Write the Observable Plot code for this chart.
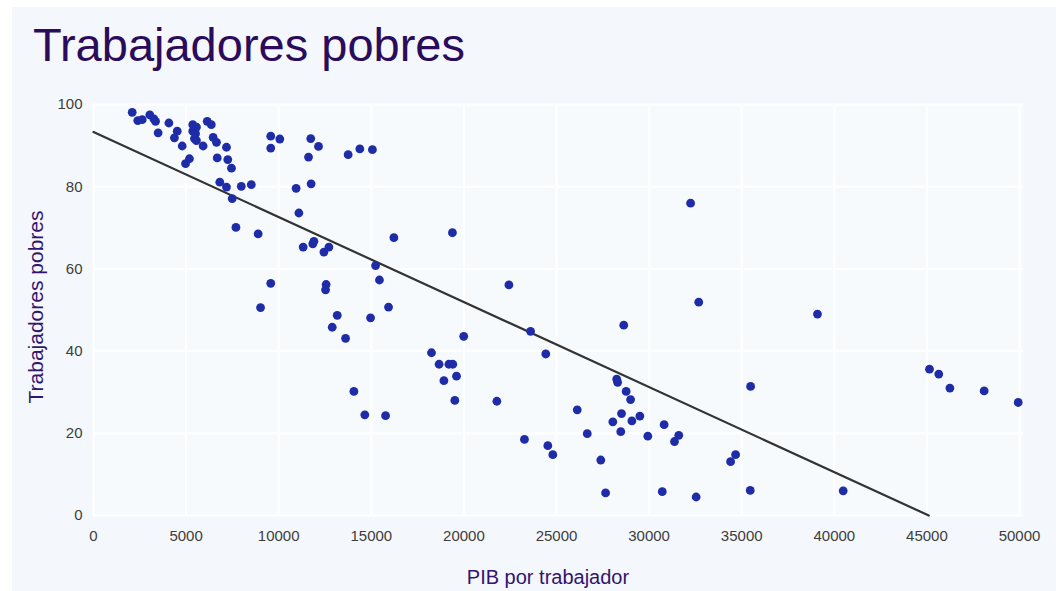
<!DOCTYPE html>
<html>
<head>
<meta charset="utf-8">
<script src="https://cdn.jsdelivr.net/npm/d3@7"></script>
<script src="https://cdn.jsdelivr.net/npm/@observablehq/plot@0.6"></script>
<style>
  html, body { margin: 0; padding: 0; background: #ffffff; }
  #page { position: relative; width: 1056px; height: 591px; overflow: hidden; }
  #panel { position: absolute; left: 12px; top: 7px; width: 1044px; height: 584px; background: #f4f7fb; }
  #title { position: absolute; left: 33px; top: 21px; font-family: "Liberation Sans", Arial, sans-serif; font-size: 47px; color: #2a0b5c; white-space: nowrap; line-height: 1; }
  #xlabel { position: absolute; left: 0; width: 1096px; text-align: center; top: 567px; font-family: "Liberation Sans", Arial, sans-serif; font-size: 20px; color: #33146e; line-height: 1; }
  #ylabel { position: absolute; left: 35px; top: 307px; transform: translate(-50%, -50%) rotate(-90deg); font-family: "Liberation Sans", Arial, sans-serif; font-size: 21px; color: #33146e; white-space: nowrap; line-height: 1; }
  #chart { position: absolute; left: 0; top: 80px; }
</style>
</head>
<body>
<div id="page">
  <div id="panel"></div>
  <div id="title">Trabajadores pobres</div>
  <div id="chart"></div>
  <div id="xlabel">PIB por trabajador</div>
  <div id="ylabel">Trabajadores pobres</div>
</div>
<script>
// PIB por trabajador (x) and Trabajadores pobres (y)
const pib = [
  2090, 2390, 2630, 3040, 3260, 3350, 4070, 3490, 4520, 4370, 4790, 5180, 4970,
  5360, 5560, 5360, 5510, 5450, 5560, 5920, 6140, 6360, 6460, 6640, 7180, 6680,
  7250, 7450, 6820, 7180, 7490, 7980, 8520, 7690, 8890, 9570, 10060, 9570, 10940,
  11750, 11730, 12150, 11610, 13750, 14380, 15060, 11090, 11320, 11840, 11900,
  12710, 12440, 15230, 15440, 16220, 9570, 12560, 12530, 9020, 15930, 13160,
  14960, 12890, 13610, 14060, 14650, 15770, 19380, 32240, 22430, 23600, 19990,
  18250, 24420, 28630, 32680, 18660, 19190, 19400, 19600, 18920, 19510, 21780,
  23270, 24530, 24800, 26120, 26660, 27390, 27650, 28250, 28300, 28760, 29000,
  28510, 28040, 29070, 29500, 28470, 29930, 30810, 31600, 31370, 30710, 32540,
  39090, 45140, 45640, 46240, 48090, 49930, 35480, 34670, 34400, 35460, 40480
];
const pobres = [
  98.1, 96.1, 96.3, 97.5, 96.5, 95.9, 95.5, 93.1, 93.5, 91.9, 89.9, 86.8, 85.6,
  95.1, 94.5, 93.5, 92.9, 91.7, 91.2, 89.9, 95.9, 95.1, 92.0, 90.8, 89.6, 87.0,
  86.6, 84.5, 81.1, 79.9, 77.1, 80.1, 80.5, 70.1, 68.5, 92.3, 91.6, 89.4, 79.6,
  80.7, 91.7, 89.8, 87.2, 87.8, 89.2, 89.0, 73.6, 65.3, 66.1, 66.7,
  65.3, 64.1, 60.8, 57.3, 67.6, 56.5, 56.2, 54.9, 50.6, 50.7, 48.7,
  48.1, 45.8, 43.1, 30.2, 24.5, 24.3, 68.8, 76.0, 56.1, 44.8, 43.6,
  39.6, 39.3, 46.3, 51.9, 36.8, 36.8, 36.8, 33.9, 32.8, 28.0, 27.8,
  18.5, 17.0, 14.8, 25.7, 19.9, 13.5, 5.5, 33.2, 32.4, 30.2, 28.2,
  24.8, 22.8, 23.0, 24.2, 20.4, 19.3, 22.1, 19.5, 18.0, 5.8, 4.5,
  49.0, 35.6, 34.4, 31.0, 30.3, 27.5, 31.4, 14.8, 13.1, 6.1, 6.0
];
// Fitted trend line endpoints
const trendX = [0, 45100];
const trendY = [93.3, 0];
// Tick values
const xTicks = [0, 5000, 10000, 15000, 20000, 25000, 30000, 35000, 40000, 45000, 50000];
const yTicks = [0, 20, 40, 60, 80, 100];

const points = pib.map((x, i) => ({x, y: pobres[i]}));
const trend = trendX.map((x, i) => ({x, y: trendY[i]}));

const chart = Plot.plot({
  width: 1056,
  height: 511,
  marginLeft: 93,
  marginRight: 33,
  marginTop: 24,
  marginBottom: 76,
  style: {background: "transparent", fontFamily: "'Liberation Sans', Arial, sans-serif", fontSize: "15px", color: "#444"},
  x: {domain: [0, 50215], label: null},
  y: {domain: [0, 100], label: null},
  marks: [
    Plot.frame({fill: "#f7fafd", stroke: null}),
    Plot.gridX(xTicks, {stroke: "#ffffff", strokeOpacity: 1, strokeWidth: 2}),
    Plot.gridY(yTicks, {stroke: "#ffffff", strokeOpacity: 1, strokeWidth: 2}),
    Plot.axisX(xTicks, {tickSize: 0, tickPadding: 15, tickFormat: d => String(d), fill: "#3d3d3d", fontSize: 15}),
    Plot.axisY(yTicks, {tickSize: 0, tickPadding: 11, tickFormat: d => String(d), fill: "#3d3d3d", fontSize: 15}),
    Plot.line(trend, {x: "x", y: "y", stroke: "#333333", strokeWidth: 2.2}),
    Plot.dot(points, {x: "x", y: "y", r: 4.4, fill: "#1e2ca8", stroke: "none"})
  ]
});
document.getElementById("chart").appendChild(chart);
</script>
</body>
</html>
